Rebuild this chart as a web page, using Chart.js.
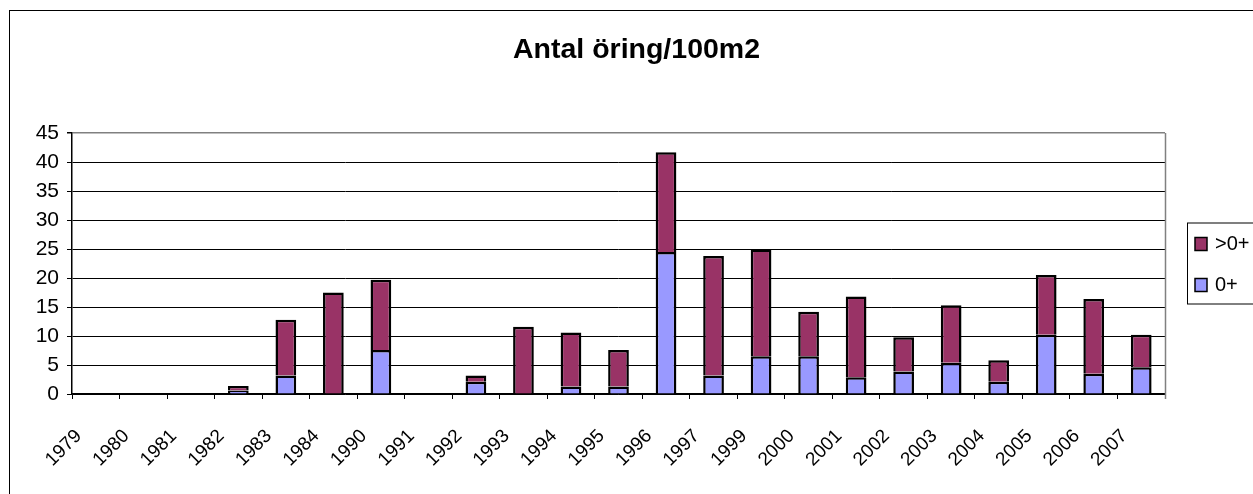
<!DOCTYPE html>
<html>
<head>
<meta charset="utf-8">
<title>Antal öring/100m2</title>
<script src="https://cdn.jsdelivr.net/npm/chart.js@4/dist/chart.umd.min.js"></script>
<style>
    html, body { margin: 0; padding: 0; background: #fff; }
    #wrap { width: 1253px; height: 494px; }
</style>
</head>
<body>
<div id="wrap"><canvas id="fishChart"></canvas></div>
<script>
// data
const years = ['1979', '1980', '1981', '1982', '1983', '1984', '1990', '1991', '1992', '1993', '1994', '1995',
    '1996', '1997', '1999', '2000', '2001', '2002', '2003', '2004', '2005', '2006', '2007'];
const young = [0, 0, 0, 0.6, 3.2, 0, 7.6, 0, 2.1, 0, 1.3, 1.3,
    24.5, 3.2, 6.5, 6.5, 2.9, 3.9, 5.4, 2.1, 10.2, 3.5, 4.6];      // 0+
const older = [0, 0, 0, 0.8, 9.6, 17.5, 12.1, 0, 1.1, 11.6, 9.3, 6.3,
    17.2, 20.6, 18.4, 7.7, 13.9, 5.9, 9.9, 3.7, 10.3, 12.9, 5.6];  // >0+
const yTicks = [0, 5, 10, 15, 20, 25, 30, 35, 40, 45];

const FONT = 'Arial, "Liberation Sans", sans-serif';
const BLUE = '#9999FF';
const PLUM = '#993366';

// outer frame, plot frame and the boxed legend (Excel style)
const framePlugin = {
    id: 'frame',
    beforeDraw(chart) {
        const ctx = chart.ctx;
        ctx.save();
        ctx.strokeStyle = '#000';
        ctx.lineWidth = 1;
        ctx.strokeRect(9.5, 10.5, 1300, 600);
        ctx.restore();
    },
    afterDatasetsDraw(chart) {
        const ctx = chart.ctx;
        const a = chart.chartArea;
        ctx.save();
        ctx.strokeStyle = '#808080';
        ctx.lineWidth = 1.5;
        ctx.beginPath();
        ctx.moveTo(a.right + 0.5, a.top);
        ctx.lineTo(a.right + 0.5, a.bottom + 5);
        ctx.stroke();
        ctx.restore();
    },
    afterDraw(chart) {
        const ctx = chart.ctx;
        const a = chart.chartArea;
        const mid = (a.top + a.bottom) / 2;
        const x0 = a.right + 22;
        ctx.save();
        ctx.strokeStyle = '#000';
        ctx.lineWidth = 1;
        ctx.strokeRect(x0 + 0.5, mid - 41 + 0.5, 120, 81);
        // legend order as in the reference: top series first
        const items = chart.data.datasets.slice().reverse();
        items.forEach((ds, i) => {
            const cy = mid - 20 + i * 41;
            ctx.fillStyle = ds.backgroundColor;
            ctx.fillRect(x0 + 8, cy - 6, 12, 13);
            ctx.lineWidth = 1.5;
            ctx.strokeStyle = '#000';
            ctx.strokeRect(x0 + 8, cy - 6, 12, 13);
            ctx.fillStyle = '#000';
            ctx.font = '20px ' + FONT;
            ctx.textBaseline = 'middle';
            ctx.fillText(ds.label, x0 + 28, cy + 1);
        });
        ctx.restore();
    }
};

new Chart(document.getElementById('fishChart'), {
    type: 'bar',
    data: {
        labels: years,
        datasets: [
            {
                label: '0+',
                data: young,
                backgroundColor: BLUE,
                borderColor: '#000',
                borderWidth: 2.5
            },
            {
                label: '>0+',
                data: older,
                backgroundColor: PLUM,
                borderColor: '#000',
                borderWidth: 2.5
            }
        ]
    },
    options: {
        responsive: true,
        maintainAspectRatio: false,
        animation: false,
        events: [],
        barPercentage: 0.436,
        categoryPercentage: 1,
        layout: { padding: { left: 20, right: 0, top: 0, bottom: 0 } },
        scales: {
            x: {
                stacked: true,
                ticks: {
                    autoSkip: false,
                    minRotation: 45,
                    maxRotation: 45,
                    padding: 26,
                    labelOffset: -17,
                    color: '#000',
                    font: { family: FONT, size: 19 }
                },
                grid: {
                    drawOnChartArea: false,
                    drawTicks: true,
                    tickLength: 5,
                    color: '#000'
                },
                border: { color: '#000', width: 1.5 },
                afterFit(scale) { scale.height = 100; }
            },
            y: {
                stacked: true,
                min: 0,
                max: 45,
                afterBuildTicks(scale) {
                    scale.ticks = yTicks.map(v => ({ value: v }));
                },
                ticks: {
                    padding: 8,
                    color: '#000',
                    font: { family: FONT, size: 21 }
                },
                grid: {
                    color: c => (c.tick && c.tick.value === 45 ? '#808080' : '#000'),
                    lineWidth: c => (c.tick && c.tick.value === 45 ? 1.5 : 1),
                    tickColor: '#000',
                    tickLength: 5
                },
                border: { color: '#000', width: 1.5 },
                afterFit(scale) { scale.width = 52; }
            },
            // room on the right for the boxed legend
            yr: {
                type: 'linear',
                position: 'right',
                ticks: { display: false },
                grid: { display: false },
                border: { display: false },
                afterFit(scale) { scale.width = 88; }
            }
        },
        plugins: {
            legend: { display: false },
            tooltip: { enabled: false },
            title: {
                display: true,
                text: 'Antal öring/100m2',
                color: '#000',
                font: { family: FONT, size: 28.5, weight: 'bold' },
                padding: { top: 33, bottom: 65.8 }
            }
        }
    },
    plugins: [framePlugin]
});
</script>
</body>
</html>
